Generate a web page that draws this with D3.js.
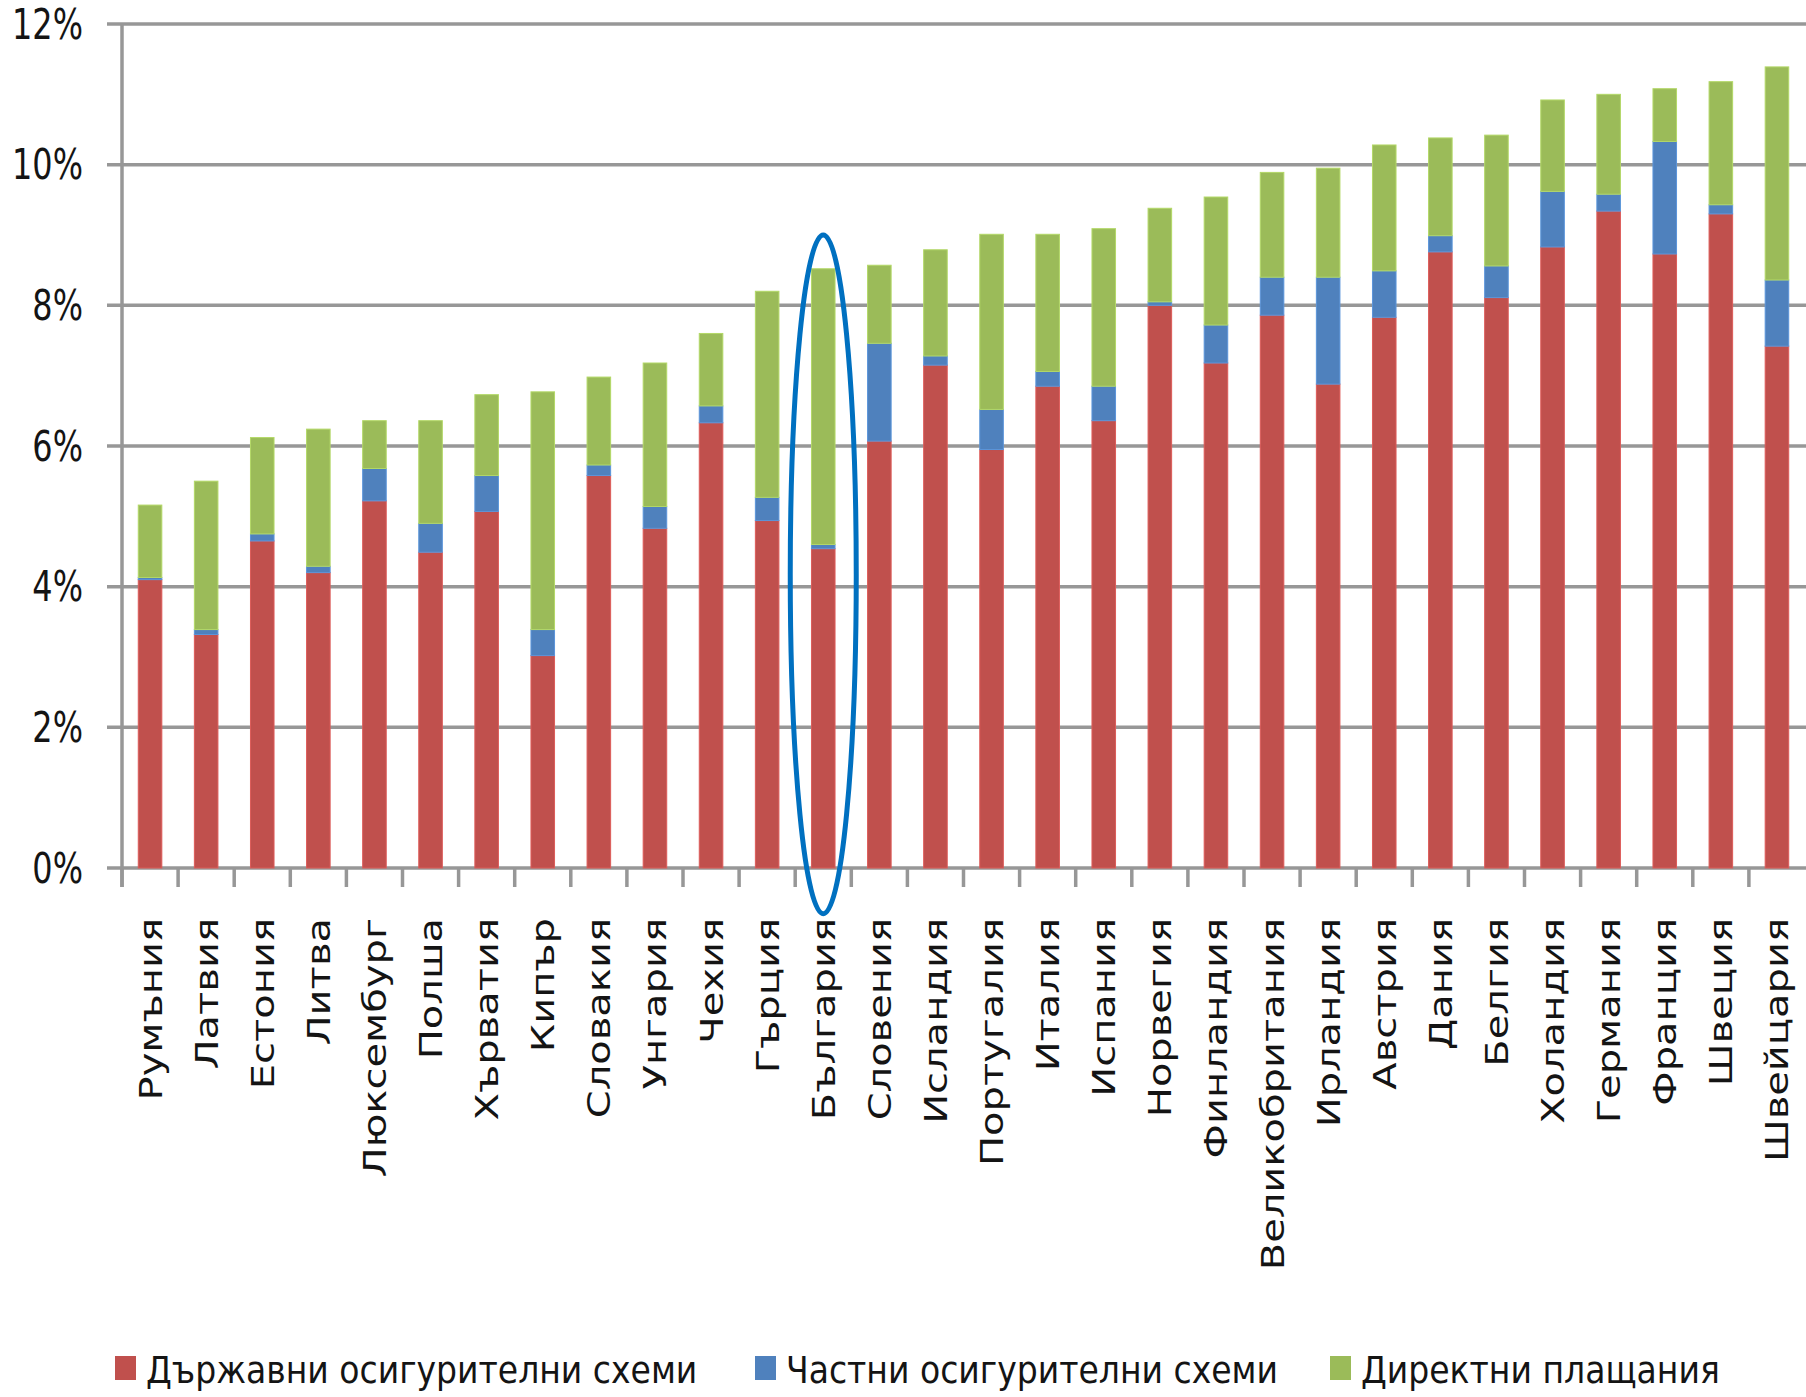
<!DOCTYPE html>
<html>
<head>
<meta charset="utf-8">
<script src="https://cdn.jsdelivr.net/npm/d3@7"></script>
<style>
  body { margin: 0; background: #fff; }
  text { font-family: "DejaVu Sans", sans-serif; fill: #141414; }
</style>
</head>
<body>
  <script>
    // health spending by source, % of GDP
    const categories = ["Румъния", "Латвия", "Естония", "Литва", "Люксембург", "Полша", "Хърватия",
      "Кипър", "Словакия", "Унгария", "Чехия", "Гърция", "България", "Словения", "Исландия",
      "Португалия", "Италия", "Испания", "Норвегия", "Финландия", "Великобритания", "Ирландия",
      "Австрия", "Дания", "Белгия", "Холандия", "Германия", "Франция", "Швеция", "Швейцария"];

    const stateSchemes = [4.10, 3.32, 4.65, 4.20, 5.22, 4.49, 5.07, 3.02, 5.58, 4.83, 6.33, 4.94, 4.54,
      6.07, 7.15, 5.95, 6.85, 6.36, 8.00, 7.18, 7.86, 6.88, 7.83, 8.76, 8.11, 8.83, 9.34, 8.73, 9.30, 7.42];
    const privateSchemes = [0.03, 0.07, 0.10, 0.09, 0.46, 0.41, 0.51, 0.37, 0.15, 0.31, 0.24, 0.33, 0.06,
      1.39, 0.13, 0.57, 0.21, 0.49, 0.05, 0.54, 0.54, 1.52, 0.66, 0.23, 0.45, 0.79, 0.24, 1.60, 0.13, 0.94];
    const directPayments = [1.03, 2.11, 1.37, 1.95, 0.68, 1.46, 1.15, 3.38, 1.25, 2.04, 1.03, 2.93, 3.92,
      1.11, 1.51, 2.49, 1.95, 2.24, 1.33, 1.82, 1.49, 1.55, 1.79, 1.39, 1.86, 1.30, 1.42, 0.75, 1.75, 3.03];

    const seriesNames = ["Държавни осигурителни схеми", "Частни осигурителни схеми", "Директни плащания"];
    const colors = ["#c0504d", "#4f81bd", "#9bbb59"];
    const yTicks = [0, 2, 4, 6, 8, 10, 12];

    const highlight = "България";
    const highlightRange = [-0.65, 9.0];

    const w = 1806;
    const h = 1397;

    const table = categories.map((c, i) => ({
      name: c, s0: stateSchemes[i], s1: privateSchemes[i], s2: directPayments[i]
    }));
    const stack = d3.stack().keys(["s0", "s1", "s2"])(table);

    const x = d3.scaleBand()
                .domain(categories)
                .range([122, 1805])
                .paddingInner(0.58)
                .paddingOuter(0.29);

    const y = d3.scaleLinear()
                .domain([0, 12])
                .range([868, 24]);

    const svg = d3.select("body")
                  .append("svg")
                  .attr("width", w)
                  .attr("height", h);

    // gridlines
    svg.selectAll("line.grid")
       .data(yTicks)
       .enter()
       .append("line")
       .attr("x1", 107)
       .attr("x2", w)
       .attr("y1", d => y(d))
       .attr("y2", d => y(d))
       .attr("stroke", "#979797")
       .attr("stroke-width", 3.5);

    svg.selectAll("text.ylab")
       .data(yTicks)
       .enter()
       .append("text")
       .attr("transform", d => `translate(83,${y(d)}) scale(0.76,1)`)
       .attr("text-anchor", "end")
       .attr("dominant-baseline", "central")
       .attr("font-size", 42)
       .text(d => d + "%");

    // bars
    svg.selectAll("g.series")
       .data(stack)
       .enter()
       .append("g")
       .attr("fill", (d, i) => colors[i])
       .attr("stroke", (d, i) => d3.color(colors[i]).brighter(0.4))
       .attr("stroke-width", 1)
       .selectAll("rect")
       .data(d => d)
       .enter()
       .append("rect")
       .attr("x", d => x(d.data.name))
       .attr("width", x.bandwidth())
       .attr("y", d => y(d[1]))
       .attr("height", d => y(d[0]) - y(d[1]));

    // axes lines and category ticks
    svg.append("line")
       .attr("x1", 122).attr("x2", 122)
       .attr("y1", y(12)).attr("y2", 887)
       .attr("stroke", "#979797")
       .attr("stroke-width", 3.5);

    svg.selectAll("line.xtick")
       .data(categories)
       .enter()
       .append("line")
       .attr("x1", (d, i) => x.range()[0] + i * x.step())
       .attr("x2", (d, i) => x.range()[0] + i * x.step())
       .attr("y1", y(0))
       .attr("y2", 887)
       .attr("stroke", "#979797")
       .attr("stroke-width", 3.5);

    svg.selectAll("text.xlab")
       .data(categories)
       .enter()
       .append("text")
       .attr("transform", d => `translate(${x(d) + x.bandwidth() / 2 + 11.5},918) scale(0.8,1) rotate(-90)`)
       .attr("text-anchor", "end")
       .attr("font-size", 40)
       .text(d => d);

    // highlight ring
    svg.append("ellipse")
       .attr("cx", x(highlight) + x.bandwidth() / 2)
       .attr("cy", (y(highlightRange[0]) + y(highlightRange[1])) / 2)
       .attr("rx", 33)
       .attr("ry", (y(highlightRange[0]) - y(highlightRange[1])) / 2)
       .attr("fill", "none")
       .attr("stroke", "#0070c0")
       .attr("stroke-width", 5);

    // legend
    const legendX = [115, 755, 1330];
    const legend = svg.selectAll("g.legend")
                      .data(seriesNames)
                      .enter()
                      .append("g")
                      .attr("transform", (d, i) => `translate(${legendX[i]},1356)`);

    legend.append("rect")
          .attr("width", 21)
          .attr("height", 24)
          .attr("fill", (d, i) => colors[i]);

    legend.append("text")
          .attr("transform", "translate(31,27) scale(0.87,1)")
          .attr("font-size", 38)
          .text(d => d);
  </script>
</body>
</html>
